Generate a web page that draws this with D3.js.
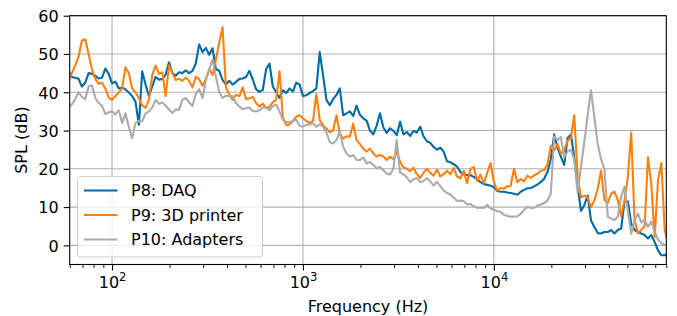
<!DOCTYPE html>
<html><head><meta charset="utf-8">
<script src="https://cdn.jsdelivr.net/npm/d3@7"></script>
<style>body{margin:0;background:#fff}svg{display:block}text{font-family:"DejaVu Sans",sans-serif;fill:#000}</style>
</head><body><svg id="c" width="677" height="316"></svg>
<script>
// Frequency grid (Hz), shared by all three series
const freqHz = [
59.15,61.58,64.12,66.77,69.52,72.38,75.37,78.48,81.71,85.08,88.59,92.24,96.04,
100,104.1,108.4,112.9,117.5,122.4,127.4,132.7,138.2,143.8,149.8,155.9,162.4,169.1,176.0,183.3,190.9,198.7,206.9,215.4,224.3,233.6,243.2,253.2,263.7,274.5,285.9,297.6,309.9,322.7,336.0,349.8,364.3,379.3,394.9,411.2,428.1,445.8,464.2,483.3,503.2,524.0,545.6,568.0,591.5,615.8,641.2,667.7,695.2,723.8,753.7,784.8,817.1,850.8,885.9,922.4,960.4,
1000,1041,1084,1129,1175,1224,1274,1327,1382,1438,1498,1559,1624,1691,1760,1833,1909,1987,2069,2154,2243,2336,2432,2532,2637,2745,2859,2976,3099,3227,3360,3498,3643,3793,3949,4112,4281,4458,4642,4833,5032,5240,5456,5680,5915,6158,6412,6677,6952,7238,7537,7848,8171,8508,8859,9224,9604,
10000,10412,10841,11288,11754,12238,12743,13268,13815,14385,14977,15595,16238,16907,17604,18330,19085,19872,20691,21544,22432,23357,24320,25323,26367,27453,28585,29764,30990,32268,33598,34983,36425,37927,39490,41119,42813,44578,46416,48329,50322,52396,54556,56805,59146,61585,64124,66767,69519,72385,75369,78476,81711
];
// SPL (dB) per series
const splP8 = [
45.5,44.0,43.8,43.5,41.5,42.5,45.0,44.8,44.3,43.6,43.8,46.2,44.8,
42.3,42.8,41.0,41.2,40.8,39.9,39.0,37.5,31.5,45.5,42.0,39.0,41.5,44.0,43.3,43.5,44.6,47.8,45.0,44.3,45.2,45.0,45.7,45.0,45.6,47.5,52.5,50.5,51.6,49.8,51.5,46.0,45.6,43.2,42.0,43.0,42.0,42.7,43.5,43.6,44.0,45.6,43.4,40.8,40.1,40.6,46.0,47.5,41.5,40.0,38.5,40.5,39.8,41.0,40.2,42.5,42.0,
39.0,39.2,39.8,40.3,41.0,50.5,44.5,38.0,36.6,38.2,39.3,41.0,34.0,34.5,35.0,33.8,36.5,34.1,33.2,32.6,30.0,29.0,31.3,34.5,30.8,29.4,30.6,29.9,28.8,32.3,29.0,29.6,28.6,29.9,29.5,31.0,28.5,27.2,26.8,25.7,25.0,25.5,24.5,22.0,21.7,21.2,20.6,19.2,18.5,18.4,18.3,17.9,17.3,16.5,16.0,15.8,15.6,
15.2,14.2,14.0,14.0,13.8,13.7,13.5,13.2,14.0,14.5,14.9,15.0,15.4,15.9,16.5,17.4,19.2,22.5,29.0,25.5,23.2,21.0,28.0,29.0,23.0,15.5,9.0,10.5,13.0,6.5,4.8,3.2,3.1,3.5,3.5,4.0,3.1,4.0,4.4,11.5,11.5,5.7,4.0,3.5,3.1,2.7,1.8,2.7,0.9,-1.3,-2.6,-2.6,-2.0
];
const splP9 = [
43.0,45.0,47.0,49.3,53.5,53.8,50.0,46.0,43.5,42.2,42.5,41.0,38.6,
38.0,39.0,39.9,41.0,46.5,45.0,41.0,40.0,38.5,36.6,35.9,38.0,44.5,47.0,44.8,45.2,39.0,47.0,45.0,43.2,43.5,43.0,43.8,43.0,41.3,44.0,43.4,41.7,43.5,46.0,44.5,48.5,53.0,57.0,41.2,39.5,38.0,39.3,39.0,41.3,38.2,38.4,38.8,37.2,36.3,37.0,35.9,36.2,37.4,38.0,45.5,33.5,31.4,31.6,32.5,33.6,34.0,
33.2,32.5,32.0,32.5,39.5,32.7,31.4,30.5,29.6,30.0,34.0,29.2,27.9,28.5,28.4,31.8,27.5,26.5,25.3,24.5,25.3,24.0,23.2,23.6,23.2,22.3,23.2,22.5,24.5,21.8,20.4,20.0,19.4,20.3,18.6,17.6,19.0,20.0,19.0,18.2,19.8,18.0,18.6,19.5,18.6,20.2,18.0,17.5,19.5,16.2,20.0,20.5,16.8,18.5,16.2,18.9,21.5,
16.5,14.3,15.0,14.8,15.4,15.5,20.0,16.5,17.3,16.7,18.2,17.6,18.3,18.7,19.5,19.7,21.2,26.0,24.8,26.5,23.9,24.8,27.3,28.0,34.0,18.0,12.5,13.0,12.5,10.0,11.7,14.8,19.5,11.9,11.0,13.5,14.0,11.8,7.6,11.8,17.9,29.5,6.6,3.1,4.0,5.0,23.0,16.0,2.2,17.0,21.5,4.0,0.5
];
const splP10 = [
36.0,36.8,38.2,40.0,38.8,38.2,41.5,41.8,38.5,37.2,36.5,34.3,34.8,
35.0,34.2,35.3,32.0,34.5,31.0,28.0,32.0,32.5,32.4,34.5,35.0,36.0,38.0,37.0,37.3,36.5,35.5,34.6,35.5,35.4,38.0,38.5,37.4,36.4,39.5,40.8,38.5,43.0,46.0,48.5,44.1,40.0,38.5,39.1,39.0,39.0,37.2,36.3,35.6,35.8,36.0,35.1,35.0,35.3,36.0,36.0,35.3,36.4,36.8,35.0,32.8,32.2,32.2,32.5,32.8,31.2,
31.0,31.5,31.6,31.9,31.0,31.6,31.0,29.5,27.0,26.6,27.5,29.7,25.8,24.0,23.2,23.6,22.3,22.3,23.0,21.4,21.8,21.0,20.1,20.5,19.6,18.8,18.5,20.0,27.5,19.0,18.6,17.8,16.5,17.3,17.6,16.5,16.8,17.6,16.7,15.6,16.6,15.5,14.3,13.7,13.3,12.5,11.6,11.7,11.5,10.7,10.8,10.2,9.8,9.9,9.8,10.6,9.6,
9.3,9.0,8.7,8.0,7.7,7.5,7.5,7.6,8.2,9.3,10.0,9.8,9.8,10.4,10.7,11.0,11.7,13.5,28.5,27.5,28.3,23.0,24.5,25.0,22.5,13.8,20.5,27.0,34.0,40.5,33.5,26.5,22.5,20.0,7.5,7.0,6.6,7.5,12.7,15.3,9.0,3.0,6.5,8.3,6.0,6.8,4.8,6.2,3.5,1.5,0.6,0.1,0.0
];
const seriesNames = ["P8: DAQ", "P9: 3D printer", "P10: Adapters"];
const seriesColors = ["#006BA4", "#FF800E", "#ABABAB"];
const yTicks = [0, 10, 20, 30, 40, 50, 60];
const xMajor = [100, 1000, 10000];
const xExp = ["2", "3", "4"];
const xLabel = "Frequency (Hz)";
const yLabel = "SPL (dB)";

const FS = 16;
const svg = d3.select("#c");
svg.append("rect").attr("width", 677).attr("height", 316).attr("fill", "#fff");
const L = 69.7, R = 666.3, T = 15.7, B = 264.5;
const x = d3.scaleLog().domain([60, 80000]).range([L, R]);
const y = d3.scaleLinear().domain([-5, 60]).range([B, T]);

const xMinor = [];
[10, 100, 1000, 10000].forEach(d => { for (let k = 2; k <= 9; k++) { const v = d * k; if (v >= 60 && v <= 80000) xMinor.push(v); } });

// grid
const grid = svg.append("g").attr("stroke", "#b0b0b0").attr("stroke-width", 1.1);
xMajor.forEach(v => grid.append("line").attr("x1", x(v)).attr("x2", x(v)).attr("y1", T).attr("y2", B));
yTicks.forEach(v => grid.append("line").attr("x1", L).attr("x2", R).attr("y1", y(v)).attr("y2", y(v)));

// clip
svg.append("clipPath").attr("id", "clip").append("rect").attr("x", L).attr("y", T).attr("width", R - L).attr("height", B - T);

const all = [splP8, splP9, splP10];
const line = d3.line().x((d, i) => x(freqHz[i])).y(d => y(d));
const plot = svg.append("g").attr("clip-path", "url(#clip)");
all.forEach((s, k) => {
  plot.append("path").datum(s).attr("d", line).attr("fill", "none")
    .attr("stroke", seriesColors[k]).attr("stroke-width", 2.1).attr("stroke-linejoin", "round").attr("stroke-linecap", "square");
});

// axes
const yAxis = d3.axisLeft(y).tickValues(yTicks).tickSize(6).tickPadding(5).tickFormat(d3.format("d"));
const gy = svg.append("g").attr("transform", `translate(${L},0)`).call(yAxis);
gy.select(".domain").remove();
gy.selectAll("line").attr("stroke", "#000").attr("stroke-width", 1.1);
gy.selectAll("text").attr("font-size", FS).attr("font-family", "DejaVu Sans").attr("fill", "#000").attr("dy", "0.36em");

const xAxisMinor = d3.axisBottom(x).tickValues(xMinor).tickSize(3.5).tickFormat("");
const gxm = svg.append("g").attr("transform", `translate(0,${B})`).call(xAxisMinor);
gxm.select(".domain").remove();
gxm.selectAll("line").attr("stroke", "#000").attr("stroke-width", 0.9);

const xAxis = d3.axisBottom(x).tickValues(xMajor).tickSize(6).tickFormat("");
const gx = svg.append("g").attr("transform", `translate(0,${B})`).call(xAxis);
gx.select(".domain").remove();
gx.selectAll("line").attr("stroke", "#000").attr("stroke-width", 1.1);
gx.selectAll(".tick").each(function (d, i) {
  const t = d3.select(this).append("text").attr("y", 23.5).attr("text-anchor", "middle").attr("font-size", FS).attr("fill", "#000");
  t.append("tspan").text("10");
  t.append("tspan").attr("font-size", 11.5).attr("dy", -7).text(xExp[i]);
});

// frame
svg.append("rect").attr("x", L).attr("y", T).attr("width", R - L).attr("height", B - T)
  .attr("fill", "none").attr("stroke", "#000").attr("stroke-width", 1.1);

// labels
svg.append("text").attr("x", (L + R) / 2).attr("y", 311.5).attr("text-anchor", "middle").attr("font-size", FS).text(xLabel);
svg.append("text").attr("transform", `translate(27,${(T + B) / 2}) rotate(-90)`).attr("text-anchor", "middle").attr("font-size", FS).text(yLabel);

// legend
const lg = svg.append("g");
lg.append("rect").attr("x", 77.5).attr("y", 176.5).attr("width", 185).attr("height", 80.5).attr("rx", 3)
  .attr("fill", "#fff").attr("fill-opacity", 0.8).attr("stroke", "#cccccc").attr("stroke-width", 1);
const ly = [190.5, 215, 239.5];
seriesNames.forEach((n, k) => {
  lg.append("line").attr("x1", 84).attr("x2", 117.5).attr("y1", ly[k]).attr("y2", ly[k]).attr("stroke", seriesColors[k]).attr("stroke-width", 2.1);
  lg.append("text").attr("x", 131).attr("y", ly[k] + 5.7).attr("font-size", FS).text(n);
});
</script></body></html>
